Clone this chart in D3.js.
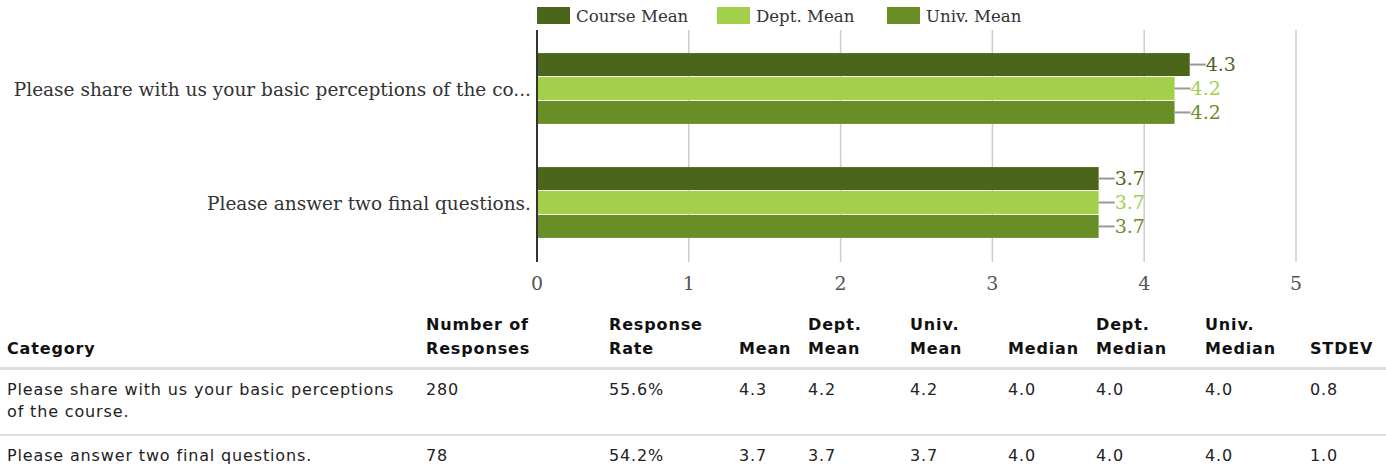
<!DOCTYPE html>
<html>
<head>
<meta charset="utf-8">
<script src="https://cdn.jsdelivr.net/npm/d3@7"></script>
<style>
  body { margin: 0; background: #fff; width: 1386px; overflow: hidden; }
  #chart { display: block; }
  table { border-collapse: collapse; table-layout: fixed; width: 1386px;
          font-family: "DejaVu Sans", sans-serif; font-size: 16px; color: #222; letter-spacing: 0.85px; }
  th { font-weight: bold; text-align: left; vertical-align: bottom; padding: 8px 0 6px 0;
       line-height: 24px; border-bottom: 3px solid #ddd; color: #111; }
  td { vertical-align: top; padding: 9px 0 11px 0; line-height: 22px; border-bottom: 2px solid #ddd; }
  th:first-child, td:first-child { padding-left: 7px; padding-right: 20px; }
  tr:last-child td { border-bottom: none; }
</style>
</head>
<body>
<svg id="chart" width="1386" height="305"></svg>
<table id="tbl"></table>
<script>
// ---- data ----
var categories = ["Please share with us your basic perceptions of the course.", "Please answer two final questions."];
var shortLabels = ["Please share with us your basic perceptions of the co...", "Please answer two final questions."];
var seriesNames = ["Course Mean", "Dept. Mean", "Univ. Mean"];
var courseMean = [4.3, 3.7];
var deptMean = [4.2, 3.7];
var univMean = [4.2, 3.7];
var xTicks = [0, 1, 2, 3, 4, 5];

var colHeads = [["Category"], ["Number of", "Responses"], ["Response", "Rate"], ["Mean"], ["Dept.", "Mean"],
                ["Univ.", "Mean"], ["Median"], ["Dept.", "Median"], ["Univ.", "Median"], ["STDEV"]];
var responses = ["280", "78"];
var responseRate = ["55.6%", "54.2%"];
var medians = ["4.0", "4.0"];
var deptMedians = ["4.0", "4.0"];
var univMedians = ["4.0", "4.0"];
var stdev = ["0.8", "1.0"];

var colors = ["#4b651a", "#a2d04b", "#6a8e26"];
var seriesVals = [courseMean, deptMean, univMean];

// ---- chart ----
var svg = d3.select("#chart");
var serif = "'DejaVu Serif', serif";

var x = d3.scaleLinear().domain([0, 5]).range([537, 1296]);
var y = d3.scaleBand().domain(categories).range([32, 260]).paddingInner(0.37).paddingOuter(0.185);
var ySub = d3.scaleBand().domain(seriesNames).range([0, y.bandwidth()]);

// gridlines
svg.append("g").selectAll("line").data(xTicks.slice(1)).join("line")
  .attr("x1", d => x(d)).attr("x2", d => x(d))
  .attr("y1", 30).attr("y2", 262)
  .attr("stroke", "#ccc").attr("stroke-width", 1.5);

// bars
var groups = svg.append("g").selectAll("g").data(categories).join("g")
  .attr("transform", d => "translate(0," + y(d) + ")");

groups.each(function(cat, ci) {
  var g = d3.select(this);
  seriesNames.forEach(function(s, si) {
    var v = seriesVals[si][ci];
    var yy = ySub(s);
    var h = ySub.bandwidth() - 1;
    g.append("rect")
      .attr("x", x(0)).attr("y", yy)
      .attr("width", x(v) - x(0)).attr("height", h)
      .attr("fill", colors[si]);
    g.append("line")
      .attr("x1", x(v)).attr("x2", x(v) + 16)
      .attr("y1", yy + h / 2).attr("y2", yy + h / 2)
      .attr("stroke", "#999").attr("stroke-width", 2);
    g.append("text")
      .attr("x", x(v) + 16).attr("y", yy + h / 2)
      .attr("dy", "0.36em")
      .attr("font-family", serif).attr("font-size", 19)
      .attr("fill", colors[si])
      .text(v.toFixed(1));
  });
});

// category labels
svg.append("g").selectAll("text").data(categories).join("text")
  .attr("x", 531).attr("y", d => y(d) + y.bandwidth() / 2)
  .attr("dy", "0.36em").attr("text-anchor", "end")
  .attr("font-family", serif).attr("font-size", 18.5).attr("fill", "#333")
  .text((d, i) => shortLabels[i]);

// axis line
svg.append("line").attr("x1", x(0)).attr("x2", x(0)).attr("y1", 30).attr("y2", 262)
  .attr("stroke", "#333").attr("stroke-width", 2);

// x tick labels
svg.append("g").selectAll("text").data(xTicks).join("text")
  .attr("x", d => x(d)).attr("y", 283).attr("dy", "0.36em")
  .attr("text-anchor", "middle")
  .attr("font-family", serif).attr("font-size", 19).attr("fill", "#555")
  .text(d => d);

// legend
var legX = [537, 717, 887];
var leg = svg.append("g").selectAll("g").data(seriesNames).join("g")
  .attr("transform", (d, i) => "translate(" + legX[i] + ",7)");
leg.append("rect").attr("width", 33).attr("height", 17).attr("fill", (d, i) => colors[i]);
leg.append("text").attr("x", 39).attr("y", 9).attr("dy", "0.36em")
  .attr("font-family", serif).attr("font-size", 16.6).attr("fill", "#333")
  .text(d => d);

// ---- table ----
var colW = [426, 183, 130, 69, 102, 98, 88, 109, 105, 76];
var tbl = d3.select("#tbl");
tbl.append("colgroup").selectAll("col").data(colW).join("col").style("width", d => d + "px");
tbl.append("thead").append("tr").selectAll("th").data(colHeads).join("th")
  .html(d => d.join("<br>"));

var rows = categories.map((c, i) => [c, responses[i], responseRate[i], courseMean[i].toFixed(1),
  deptMean[i].toFixed(1), univMean[i].toFixed(1), medians[i], deptMedians[i], univMedians[i], stdev[i]]);
tbl.append("tbody").selectAll("tr").data(rows).join("tr")
  .selectAll("td").data(d => d).join("td").text(d => d);
</script>
</body>
</html>
